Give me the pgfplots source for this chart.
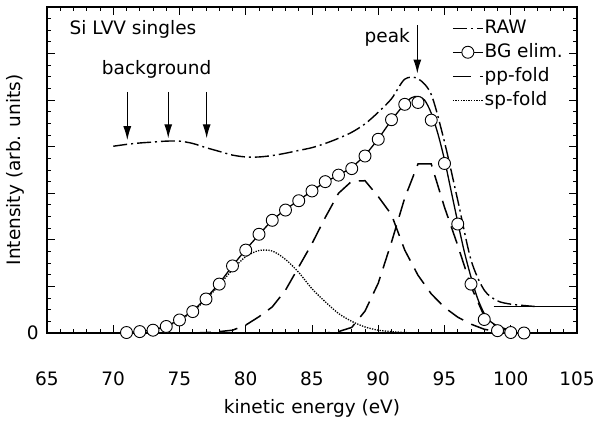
\documentclass[border=0pt]{standalone}
\usepackage{fontspec}
\setmainfont{DejaVu Sans}
\usepackage{pgfplots}
\pgfplotsset{compat=1.18}
\usetikzlibrary{arrows.meta}

\begin{document}
\fontsize{18.5bp}{22bp}\selectfont
\begin{tikzpicture}
\path[use as bounding box] (0,0) rectangle (598bp,422bp);
\begin{axis}[
  at={(47bp,89bp)}, anchor=south west,
  scale only axis, width=530bp, height=326bp,
  xmin=65, xmax=105, ymin=0, ymax=7,
  xtick={65,70,...,105}, minor x tick num=4,
  ytick={0,1,...,7}, yticklabels={0,{},{},{},{},{},{},{}}, minor y tick num=3,
  tick align=inside,
  major tick length=8bp, minor tick length=4bp,
  tick style={black, line width=1bp},
  axis line style={line width=1.3bp},
  /pgf/number format/assume math mode=true,
  xticklabel style={anchor=base, yshift=-52bp},
  yticklabel style={xshift=-2bp},
  xlabel={kinetic energy (eV)},
  ylabel={Intensity (arb. units)},
  every axis x label/.style={at={(axis description cs:0.5,0)}, anchor=base, yshift=-80bp},
  every axis y label/.style={at={(axis description cs:-0.0604,0.5)}, rotate=90, anchor=center},
  legend style={draw=none, fill=none, at={(0.764,0.963)}, anchor=north west,
    inner sep=0pt, row sep=6bp,
    nodes={inner sep=0pt, text height=14bp, text depth=4bp, anchor=west},
    /tikz/every odd column/.style={column sep=1bp}},
  legend cell align=left,
  legend image code/.code={\draw[mark repeat=2, mark phase=2, #1] plot coordinates {(0bp,0bp) (15bp,0bp) (30bp,0bp)};},
]

% legend
\addlegendimage{black, line width=1.4bp, dash pattern=on 14bp off 4bp on 2bp off 4bp}
\addlegendentry{RAW}
\addlegendimage{black, line width=1.3bp, mark=*, mark size=6bp, mark options={solid, fill=white, draw=black, line width=0.9bp}}
\addlegendentry{BG elim.}
\addlegendimage{black, line width=1.5bp, dash pattern=on 18bp off 9bp}
\addlegendentry{pp-fold}
\addlegendimage{black, line width=1.3bp, dash pattern=on 1.3bp off 1.3bp}
\addlegendentry{sp-fold}

% RAW spectrum
\addplot[black, line width=1.4bp, dash pattern=on 14bp off 4bp on 2bp off 4bp, smooth, forget plot] table {
x y
70 4.01
71 4.05
72 4.08
73 4.10
74 4.12
75 4.12
76 4.07
77 3.98
78 3.90
79 3.82
80 3.78
81 3.78
82 3.81
83 3.86
84 3.92
85 3.98
86 4.07
87 4.18
88 4.31
89 4.49
90 4.74
91 5.03
92 5.45
93 5.46
94 5.12
95 4.10
96 2.85
97 1.57
98 0.92
99 0.69
100 0.62
101 0.59
101.8 0.57
};

% flat level at high energy
\addplot[black, line width=1.3bp, forget plot] table {
x y
98.7 0.565
105 0.565
};

% sp-fold
\addplot[black, line width=1.3bp, dash pattern=on 1.3bp off 1.3bp, smooth, forget plot] table {
x y
70 0.0
71 0.01
72 0.03
73 0.06
74 0.14
75 0.28
76 0.46
77 0.72
78 1.03
79 1.36
80 1.64
81 1.77
82 1.76
83 1.58
84 1.30
85 0.95
86 0.67
87 0.42
88 0.25
89 0.13
90 0.06
91 0.03
92 0.01
93 0.0
95 0.0
};

% pp-fold, lower component
\addplot[black, line width=1.5bp, dash pattern=on 18bp off 9bp, forget plot] table {
x y
76 0.0
77 0.01
78 0.03
79 0.06
80 0.17
81 0.35
82 0.56
83 0.92
84 1.42
85 1.92
86 2.48
87 3.00
88 3.26
89 3.27
90 2.93
91 2.54
92 1.78
93 1.24
94 0.84
95 0.55
96 0.34
97 0.19
98 0.08
99 0.03
100 0.0
};

% pp-fold, upper component
\addplot[black, line width=1.5bp, dash pattern=on 18bp off 9bp, forget plot] table {
x y
85 0.0
86 0.0
87 0.03
88 0.12
89 0.47
90 1.07
91 1.95
92 2.90
93 3.63
94 3.63
95 2.70
96 1.88
97 1.00
98 0.36
99 0.12
100 0.03
101 0.0
};

% fitted sum
\addplot[black, line width=1.3bp, smooth, forget plot] table {
x y
70 0.0
71 0.01
72 0.03
73 0.07
74 0.15
75 0.29
76 0.48
77 0.75
78 1.07
79 1.44
80 1.79
81 2.11
82 2.42
83 2.65
84 2.85
85 3.05
86 3.24
87 3.39
88 3.56
89 3.82
90 4.17
91 4.57
92 4.92
92.5 5.05
93 5.08
93.5 5.00
94 4.72
94.5 4.28
95 3.72
95.5 3.05
96 2.38
96.5 1.74
97 1.20
97.5 0.74
98 0.42
98.5 0.24
99 0.15
99.5 0.10
100 0.05
100.5 0.0
};

% background-eliminated data
\addplot[only marks, mark=*, mark size=6bp, mark options={fill=white, draw=black, line width=0.9bp}, forget plot] table {
x y
71 0.01
72 0.03
73 0.06
74 0.14
75 0.28
76 0.46
77 0.73
78 1.05
79 1.44
80 1.78
81 2.12
82 2.42
83 2.64
84 2.84
85 3.05
86 3.25
87 3.39
88 3.53
89 3.80
90 4.16
91 4.58
92 4.91
93 4.95
94 4.57
95 3.64
96 2.34
97 1.05
98 0.29
99 0.05
100 0.01
101 0.0
};

% annotations
\node[anchor=base west, inner sep=0pt] at (axis cs:66.7,6.42) {Si LVV singles};
\node[anchor=base west, inner sep=0pt] at (axis cs:69.13,5.56) {background};
\node[anchor=base east, inner sep=0pt] at (axis cs:92.4,6.24) {peak};
\draw[line width=1.2bp, -{Latex[length=14bp, width=8bp]}] (axis cs:71.06,5.18) -- (axis cs:71.06,4.14);
\draw[line width=1.2bp, -{Latex[length=14bp, width=8bp]}] (axis cs:74.15,5.18) -- (axis cs:74.15,4.18);
\draw[line width=1.2bp, -{Latex[length=14bp, width=8bp]}] (axis cs:77.05,5.18) -- (axis cs:77.05,4.18);
\draw[line width=1.2bp, -{Latex[length=14bp, width=8bp]}] (axis cs:92.95,6.61) -- (axis cs:92.95,5.57);

\end{axis}
\end{tikzpicture}
\end{document}
